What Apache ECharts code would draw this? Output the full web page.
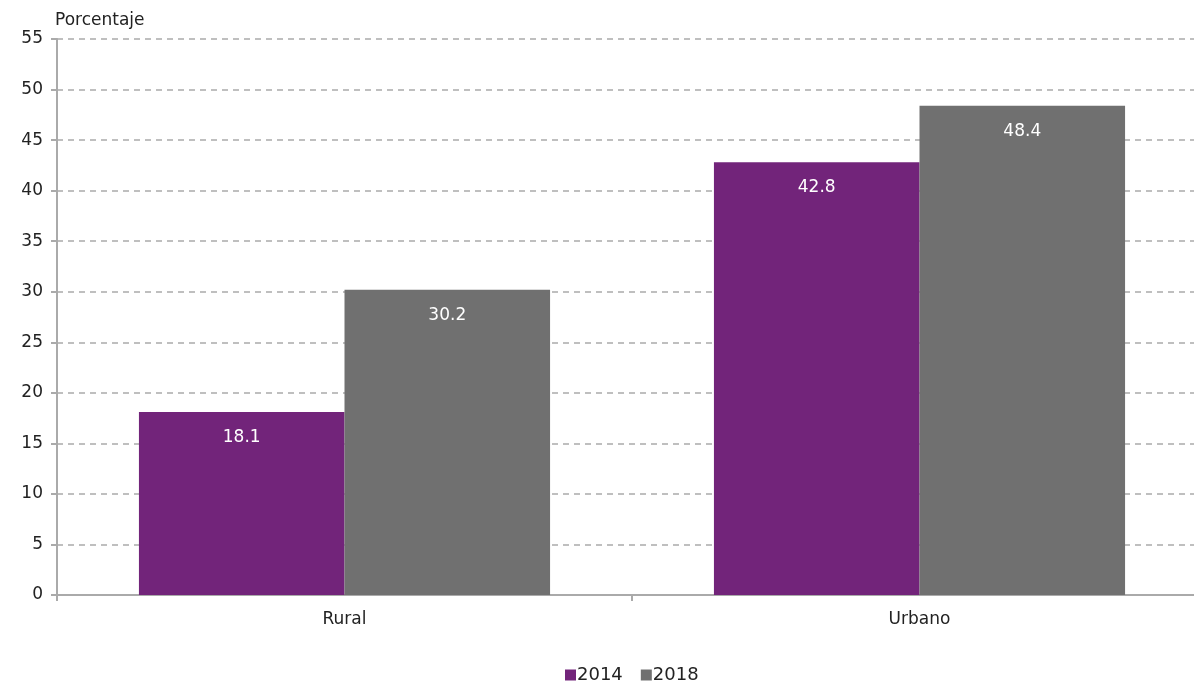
<!DOCTYPE html>
<html lang="es">
<head>
  <meta charset="UTF-8">
  <title>Porcentaje Rural / Urbano</title>
  <style>
    html,body{margin:0;padding:0;background:#fff;}
    #main{width:1194px;height:681px;}
  </style>
</head>
<body>
  <div id="main"></div>
  <script src="https://cdn.jsdelivr.net/npm/echarts@6/dist/echarts.min.js"></script>
  <script>
    const categories=['Rural','Urbano'];
    const values2014=[18.1,42.8];
    const values2018=[30.2,48.4];
    const seriesNames=['2014','2018'];

    const font='"DejaVu Sans", sans-serif';
    const chart=echarts.init(document.querySelector('#main'));

    const labelStyle={
      show:true,
      position:'insideTop',
      distance:17,
      color:'#fff',
      fontSize:17,
      fontFamily:font
    };

    const option={
      animation:false,
      textStyle:{fontFamily:font},
      // grid runs past the right edge of the picture, like the original
      grid:{left:57,width:1150,top:39,height:556,outerBoundsMode:'none'},
      legend:{
        data:seriesNames,
        bottom:-8,
        left:560,
        itemWidth:11,
        itemHeight:11,
        itemGap:18,
        icon:'rect',
        textStyle:{fontSize:18,color:'#222',fontFamily:font,padding:[0,0,0,-4]}
      },
      xAxis:{
        type:'category',
        data:categories,
        axisLine:{lineStyle:{color:'#aaa',width:2}},
        axisTick:{show:true,length:6,lineStyle:{color:'#aaa',width:2}},
        axisLabel:{fontSize:17,color:'#222',margin:16,fontFamily:font}
      },
      yAxis:{
        type:'value',
        min:0,
        max:55,
        interval:5,
        name:'Porcentaje',
        nameLocation:'end',
        nameGap:10,
        nameTextStyle:{fontSize:17,color:'#222',align:'left',padding:[0,0,0,-2],fontFamily:font},
        axisLine:{show:true,lineStyle:{color:'#aaa',width:2}},
        axisTick:{show:true,length:6,lineStyle:{color:'#aaa',width:2}},
        axisLabel:{fontSize:17,color:'#222',margin:14,fontFamily:font},
        splitLine:{lineStyle:{color:'#aaa',type:[6,5],width:1.5}}
      },
      series:[
        {
          name:seriesNames[0],
          type:'bar',
          data:values2014,
          barGap:'0%',
          barCategoryGap:'28.5%',
          itemStyle:{color:'#72247A'},
          label:labelStyle
        },
        {
          name:seriesNames[1],
          type:'bar',
          data:values2018,
          itemStyle:{color:'#707070'},
          label:labelStyle
        }
      ]
    };
    chart.setOption(option);
  </script>
</body>
</html>
